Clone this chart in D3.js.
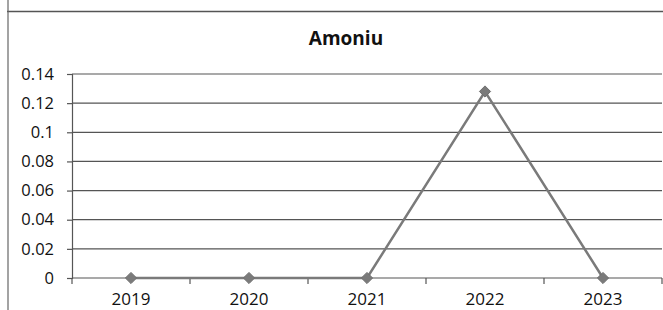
<!DOCTYPE html>
<html>
<head>
<meta charset="utf-8">
<script src="https://cdn.jsdelivr.net/npm/d3@7"></script>
<style>
body { margin: 0; background: #fff; }
svg { display: block; font-family: "Open Sans", "Liberation Sans", sans-serif; }
</style>
</head>
<body>
<script>
// chart data
var years = ['2019', '2020', '2021', '2022', '2023'];
var values = [0, 0, 0, 0.128, 0];
var yTicks = [0, 0.02, 0.04, 0.06, 0.08, 0.1, 0.12, 0.14];
var title = 'Amoniu';

var width = 663;
var height = 310;
var margin = {top: 74, right: 1, bottom: 32, left: 72};
var font = '"Open Sans", "Liberation Sans", sans-serif';

var svg = d3.select('body').append('svg')
  .attr('width', width).attr('height', height);

// frame of the chart box
svg.append('line').attr('x1', 7).attr('x2', width).attr('y1', 11.5).attr('y2', 11.5)
  .attr('stroke', '#555').attr('stroke-width', 1.5);
svg.append('line').attr('x1', 8).attr('x2', 8).attr('y1', 0).attr('y2', height)
  .attr('stroke', '#666').attr('stroke-width', 1.2);

var x = d3.scaleBand().domain(years)
  .range([margin.left, width - margin.right]);
var y = d3.scaleLinear().domain([0, 0.14])
  .range([height - margin.bottom, margin.top]);

// gridlines
svg.append('g').selectAll('line').data(yTicks).join('line')
  .attr('x1', margin.left).attr('x2', width - margin.right)
  .attr('y1', d => y(d)).attr('y2', d => y(d))
  .attr('stroke', '#555').attr('stroke-width', 1.2);

// y axis
var yAxis = svg.append('g').attr('transform', 'translate(' + margin.left + ',0)')
  .call(d3.axisLeft(y).tickValues(yTicks).tickSize(5).tickPadding(13)
    .tickFormat(d => d3.format('~g')(d)))
  .attr('font-family', font).attr('font-size', 16.5);
yAxis.select('.domain').attr('stroke', '#555').attr('stroke-width', 1.2);
yAxis.selectAll('.tick line').attr('stroke', '#555').attr('stroke-width', 1.2);
yAxis.selectAll('text').attr('fill', '#111');

// x axis
var xAxis = svg.append('g').attr('transform', 'translate(0,' + y(0) + ')')
  .call(d3.axisBottom(x).tickSize(0).tickPadding(15))
  .attr('font-family', font).attr('font-size', 17);
xAxis.select('.domain').remove();
xAxis.selectAll('text').attr('fill', '#111');
// category boundary ticks
var bounds = years.map(d => x(d)).concat([x(years[years.length - 1]) + x.bandwidth()]);
xAxis.selectAll('.bound').data(bounds).join('line').attr('class', 'bound')
  .attr('x1', d => d).attr('x2', d => d).attr('y1', 0).attr('y2', 6)
  .attr('stroke', '#555').attr('stroke-width', 1.2);

// title
svg.append('text').attr('x', 346).attr('y', 45).attr('text-anchor', 'middle')
  .attr('font-size', 19).attr('font-weight', 'bold').attr('fill', '#111').text(title);

// series line
var line = d3.line()
  .x((d, i) => x(years[i]) + x.bandwidth() / 2)
  .y(d => y(d));
svg.append('path').datum(values).attr('d', line)
  .attr('fill', 'none').attr('stroke', '#7a7a7a').attr('stroke-width', 2.5);

// diamond markers
svg.append('g').selectAll('path').data(values).join('path')
  .attr('transform', (d, i) => 'translate(' + (x(years[i]) + x.bandwidth() / 2) + ',' + y(d) + ')')
  .attr('d', d3.symbol().type(d3.symbolDiamond2).size(80))
  .attr('fill', '#7a7a7a').attr('stroke', '#6e6e6e').attr('stroke-width', 1);
</script>
</body>
</html>
